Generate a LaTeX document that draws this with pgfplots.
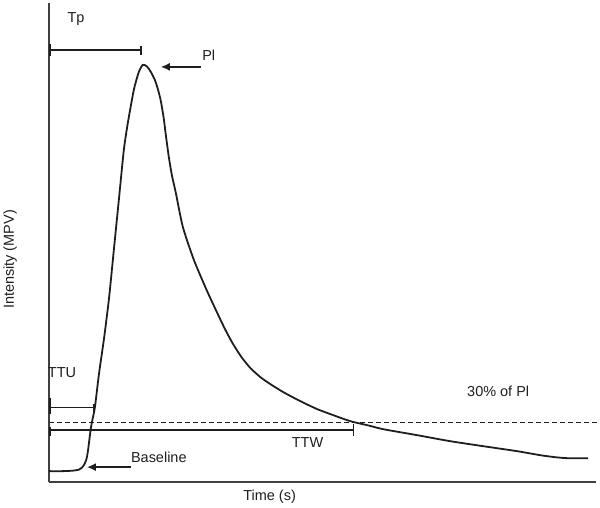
\documentclass[border=0pt]{standalone}
\usepackage{fontspec}
\setmainfont{Liberation Sans}
\usepackage{pgfplots}
\pgfplotsset{compat=1.18}
\usetikzlibrary{arrows.meta}
\definecolor{ink}{HTML}{1E1E1E}
\tikzset{lab/.style={font=\fontsize{14.5}{17}\selectfont, text=ink}}
\begin{document}
\begin{tikzpicture}[x=1pt,y=1pt]
\begin{axis}[
  scale only axis, width=548pt, height=480pt,
  xmin=48, xmax=596, ymin=24, ymax=504,
  axis lines=left, axis line style={-, line width=1.4pt, ink!85},
  xtick=\empty, ytick=\empty,
  clip=false,
]
\path (axis cs:0,0) rectangle (axis cs:600,507);
% curve (y = 507 - pixel y)
\addplot[ink, line width=1.8pt, smooth, tension=0.4] coordinates {
(48,35) (62,35) (72,35.5) (78,36.5) (81,38.5) (83.5,42) (85.5,47) (87,55)
(89.5,75) (91,84) (94,99) (98,132) (103,167) (108,207) (113,257) (118,307)
(123,357) (127,384) (133,417) (138,435) (142,442)
(146,440.5) (150,435) (154,427) (157,418) (160,406) (163,388) (165,372)
(168,350) (171,332) (175,314) (182,280) (193,247)
(207,214) (223,180) (232,163) (241,149) (250,138) (260,129) (270,122) (283,114)
(300,105) (317,97) (333,91) (350,85) (367,81) (383,77) (417,71) (450,65)
(483,60) (517,55) (540,51) (555,49) (567,48) (588,48)
};
% 30% line
\draw[ink, line width=1.4pt, dash pattern=on 5pt off 3pt] (axis cs:48,84) -- (axis cs:597,84);
% Tp bar
\draw[ink, line width=1.5pt] (axis cs:48,457) -- (axis cs:140,457);
\draw[ink, line width=1.5pt] (axis cs:49,451) -- (axis cs:49,463);
\draw[ink, line width=1.5pt] (axis cs:140,452) -- (axis cs:140,461);
% TTU bar
\draw[ink, line width=1.5pt] (axis cs:48,99) -- (axis cs:93,99);
\draw[ink, line width=1.5pt] (axis cs:49,92) -- (axis cs:49,108);
\draw[ink, line width=1.5pt] (axis cs:93,94) -- (axis cs:93,102);
% TTW bar
\draw[ink, line width=1.5pt] (axis cs:48,76) -- (axis cs:353,76);
\draw[ink, line width=1.5pt] (axis cs:49,70) -- (axis cs:49,79);
\draw[ink, line width=1.5pt] (axis cs:353,70) -- (axis cs:353,82);
% arrows
\draw[ink, line width=1.5pt, -{Latex[length=9pt,width=8pt]}] (axis cs:200,440) -- (axis cs:160,440);
\draw[ink, line width=1.5pt, -{Latex[length=9pt,width=8pt]}] (axis cs:130,39) -- (axis cs:86,39);
% labels
\node[lab] at (axis cs:75,488) {Tp};
\node[lab] at (axis cs:208,452) {Pl};
\node[lab] at (axis cs:61,134) {TTU};
\node[lab] at (axis cs:498,115) {30\% of Pl};
\node[lab] at (axis cs:307,64) {TTW};
\node[lab, anchor=west, inner sep=0pt] at (axis cs:130,49) {Baseline};
\node[lab] at (axis cs:269,9) {Time (s)};
\node[lab, rotate=90] at (axis cs:9,247) {Intensity (MPV)};
\end{axis}
\end{tikzpicture}
\end{document}
